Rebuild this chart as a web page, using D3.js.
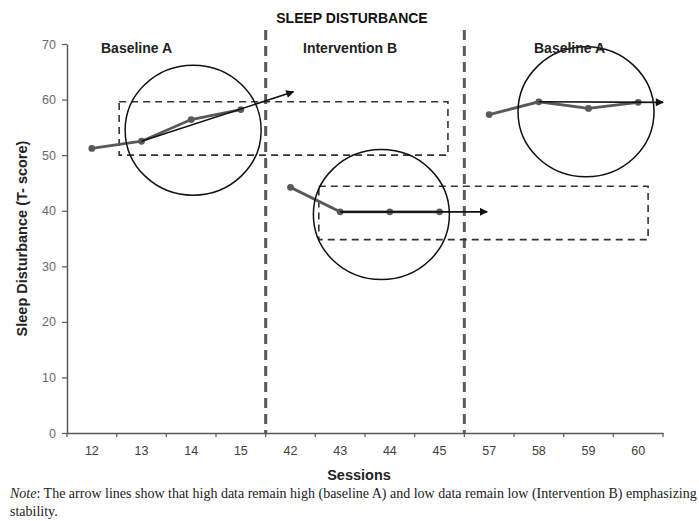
<!DOCTYPE html>
<html>
<head>
<meta charset="utf-8">
<script src="https://cdn.jsdelivr.net/npm/d3@7"></script>
<style>
	body { margin: 0; background: #fff; }
	svg { display: block; }
</style>
</head>
<body>
<svg id="chart" width="699" height="521"></svg>
<script>
// sessions on the x axis (categorical)
var sessions = ["12", "13", "14", "15", "42", "43", "44", "45", "57", "58", "59", "60"];
var yTicks = [0, 10, 20, 30, 40, 50, 60, 70];

// T-scores per phase
var baselineA1 = [51.2, 52.5, 56.4, 58.2];   // sessions 12-15
var interventionB = [44.2, 39.8, 39.8, 39.8]; // sessions 42-45
var baselineA2 = [57.3, 59.6, 58.4, 59.5];   // sessions 57-60

var phaseNames = ["Baseline A", "Intervention B", "Baseline A"];

// trend arrows: [start index, start value, end index, end value]
var arrows = [
	[1, 52.5, 4.06, 61.4],
	[5, 39.8, 7.96, 39.8],
	[9, 59.6, 11.5, 59.5]
];
// circled data: [center index, center value]
var rings = [
	[2.04, 54.5],
	[5.83, 39.3],
	[9.95, 57.8]
];
// dashed range boxes: [x index from, x index to, value low, value high]
var boxes = [
	[0.55, 7.17, 50, 59.6],
	[4.57, 11.2, 34.8, 44.4]
];

var svg = d3.select("#chart");
var margin = {top: 44, right: 36, bottom: 88, left: 67};
var width = +svg.attr("width") - margin.left - margin.right;
var height = +svg.attr("height") - margin.top - margin.bottom;
var g = svg.append("g").attr("transform", "translate(" + margin.left + "," + margin.top + ")");

var x = d3.scaleBand().domain(sessions).range([0, width]).padding(0);
var y = d3.scaleLinear().domain([0, 70]).range([height, 0]);
// fractional position along the sessions (index 0 = centre of first band)
function pos(i) { return x.step() * (i + 0.5); }

var grey = "#595959";

// y axis
var yAxis = g.append("g")
	.call(d3.axisLeft(y).tickValues(yTicks).tickSizeOuter(0).tickSizeInner(5).tickPadding(6));
yAxis.select(".domain").attr("stroke", grey).attr("stroke-width", 1.5);
yAxis.selectAll(".tick line").attr("stroke", grey).attr("stroke-width", 1.2);
yAxis.selectAll("text").attr("fill", "#6a6a6a")
	.style("font-family", "Liberation Sans, Arial, sans-serif").style("font-size", "12.5px");

// x axis - labels centred, ticks on band boundaries
var xAxis = g.append("g").attr("transform", "translate(0," + height + ")")
	.call(d3.axisBottom(x).tickSize(0).tickPadding(13));
xAxis.select(".domain").attr("stroke", grey).attr("stroke-width", 1.5);
xAxis.selectAll("text").attr("fill", "#404040")
	.style("font-family", "Liberation Sans, Arial, sans-serif").style("font-size", "12.5px");
var bounds = sessions.map(function(d) { return x(d); }).concat([width]);
xAxis.selectAll(".bound").data(bounds).enter().append("line")
	.attr("x1", function(d) { return d; }).attr("x2", function(d) { return d; })
	.attr("y1", 0).attr("y2", 4)
	.attr("stroke", grey).attr("stroke-width", 1.2);

// phase change lines
[4, 8].forEach(function(i) {
	g.append("line")
		.attr("x1", x(sessions[i])).attr("x2", x(sessions[i]))
		.attr("y1", -14).attr("y2", height)
		.attr("stroke", grey).attr("stroke-width", 3)
		.attr("stroke-dasharray", "10,6");
});

// dashed boxes
boxes.forEach(function(b) {
	g.append("rect")
		.attr("x", pos(b[0])).attr("width", pos(b[1]) - pos(b[0]))
		.attr("y", y(b[3])).attr("height", y(b[2]) - y(b[3]))
		.attr("fill", "none").attr("stroke", "#333").attr("stroke-width", 1.6)
		.attr("stroke-dasharray", "7,5");
});

// data lines per phase
var line = d3.line().x(function(d) { return pos(d.i); }).y(function(d) { return y(d.v); });
[baselineA1, interventionB, baselineA2].forEach(function(vals, p) {
	var pts = vals.map(function(v, k) { return {i: p * 4 + k, v: v}; });
	g.append("path").datum(pts).attr("d", line)
		.attr("fill", "none").attr("stroke", grey).attr("stroke-width", 2.8);
	g.selectAll(".pt" + p).data(pts).enter().append("circle")
		.attr("cx", function(d) { return pos(d.i); })
		.attr("cy", function(d) { return y(d.v); })
		.attr("r", 3.4).attr("fill", grey);
});

// arrowhead
svg.append("defs").append("marker")
	.attr("id", "head").attr("viewBox", "0 0 10 10")
	.attr("refX", 9).attr("refY", 5)
	.attr("markerWidth", 10).attr("markerHeight", 8)
	.attr("markerUnits", "userSpaceOnUse")
	.attr("orient", "auto")
	.append("path").attr("d", "M0,0L10,5L0,10z").attr("fill", "#111");

arrows.forEach(function(a) {
	g.append("line")
		.attr("x1", pos(a[0])).attr("y1", y(a[1]))
		.attr("x2", pos(a[2])).attr("y2", y(a[3]))
		.attr("stroke", "#111").attr("stroke-width", 1.6)
		.attr("marker-end", "url(#head)");
});

// circles round the stable data
rings.forEach(function(r) {
	g.append("ellipse")
		.attr("cx", pos(r[0])).attr("cy", y(r[1]))
		.attr("rx", 68).attr("ry", 65)
		.attr("fill", "none").attr("stroke", "#111").attr("stroke-width", 1.5);
});

// phase labels
var labelX = [101, 303, 534];
phaseNames.forEach(function(n, i) {
	svg.append("text").attr("x", labelX[i]).attr("y", 53).text(n)
		.style("font-family", "Liberation Sans, Arial, sans-serif")
		.style("font-weight", "bold").style("font-size", "14px").attr("fill", "#222");
});

// title
svg.append("text").attr("x", 352).attr("y", 23).attr("text-anchor", "middle")
	.text("SLEEP DISTURBANCE")
	.style("font-family", "Liberation Sans, Arial, sans-serif")
	.style("font-weight", "bold").style("font-size", "14px").attr("fill", "#111");

// axis titles
svg.append("text").attr("x", 359).attr("y", 480).attr("text-anchor", "middle")
	.text("Sessions")
	.style("font-family", "Liberation Sans, Arial, sans-serif")
	.style("font-weight", "bold").style("font-size", "14.5px").attr("fill", "#222");
svg.append("text")
	.attr("transform", "translate(27," + (margin.top + height / 2) + ") rotate(-90)")
	.attr("text-anchor", "middle")
	.text("Sleep Disturbance (T- score)")
	.style("font-family", "Liberation Sans, Arial, sans-serif")
	.style("font-weight", "bold").style("font-size", "14.5px").attr("fill", "#222");

// note below the chart
var note = svg.append("text").attr("x", 10).attr("y", 498)
	.style("font-family", "Liberation Serif, Times New Roman, serif")
	.style("font-size", "14px").attr("fill", "#222");
note.append("tspan").style("font-style", "italic").text("Note");
note.append("tspan").text(": The arrow lines show that high data remain high (baseline A) and low data remain low (Intervention B) emphasizing");
svg.append("text").attr("x", 10).attr("y", 516)
	.style("font-family", "Liberation Serif, Times New Roman, serif")
	.style("font-size", "14px").attr("fill", "#222")
	.text("stability.");
</script>
</body>
</html>
